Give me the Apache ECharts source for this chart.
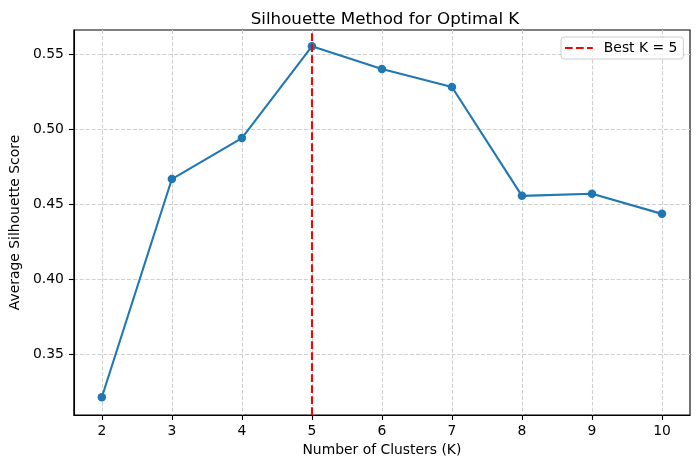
<!DOCTYPE html>
<html><head><meta charset="utf-8">
<script src="https://cdn.jsdelivr.net/npm/echarts@6/dist/echarts.min.js"></script>
<style>html,body{margin:0;padding:0;background:#fff}#c{width:700px;height:468px}</style>
</head><body><div id="c"></div>
<script>
const kValues = [2, 3, 4, 5, 6, 7, 8, 9, 10];
const scores = [0.3213, 0.4667, 0.494, 0.5551, 0.540, 0.528, 0.4555, 0.4569, 0.4435];
const bestK = 5;
const yTicks = [0.35, 0.40, 0.45, 0.50, 0.55];
const xTicks = [2, 3, 4, 5, 6, 7, 8, 9, 10];

const font = 'DejaVu Sans';
const chart = echarts.init(document.getElementById('c'), null, {renderer: 'canvas'});
const gridLine = {show: true, lineStyle: {color: '#d0d0d0', width: 1.1, type: [4.1, 1.8]}};
const redDash = [7.7, 3.3];
chart.setOption({
  animation: false,
  backgroundColor: '#fff',
  title: {
    text: 'Silhouette Method for Optimal K', left: 380, textAlign: 'center', top: 6,
    textStyle: {fontFamily: font, fontSize: 16.7, fontWeight: 'normal', color: '#000'}
  },
  legend: {
    data: [{name: 'Best K = ' + bestK,
      icon: 'path://M0,0H7.7V2.1H0Z M11,0H18.7V2.1H11Z M22,0H27.8V2.1H22Z'}],
    left: 561, top: 37,
    padding: [4, 6, 4, 4], itemWidth: 27.8, itemHeight: 2.1, itemGap: 0,
    itemStyle: {borderWidth: 0},
    borderColor: '#cccccc', borderWidth: 1, borderRadius: 3, backgroundColor: 'rgba(255,255,255,0.8)',
    textStyle: {fontFamily: font, fontSize: 13.9, color: '#000', padding: [0, 0, 0, 6]}
  },
  grid: {left: 70, right: 10, top: 30, bottom: 53, show: true, borderColor: '#000', borderWidth: 1.1, containLabel: false},
  xAxis: {
    type: 'value', min: 1.6, max: 10.4,
    name: 'Number of Clusters (K)', nameLocation: 'middle', nameGap: 28,
    nameTextStyle: {fontFamily: font, fontSize: 13.9, color: '#000'},
    axisLine: {show: true, lineStyle: {color: '#000', width: 1.1}},
    axisTick: {show: true, customValues: xTicks, length: 4.9, lineStyle: {color: '#000', width: 1.1}},
    axisLabel: {customValues: xTicks, margin: 9, fontFamily: font, fontSize: 13.9, color: '#000'},
    splitLine: gridLine
  },
  yAxis: {
    type: 'value', min: 0.3095, max: 0.566,
    name: 'Average Silhouette Score', nameLocation: 'middle', nameGap: 42,
    nameTextStyle: {fontFamily: font, fontSize: 13.9, color: '#000'},
    axisLine: {show: true, lineStyle: {color: '#000', width: 1.1}},
    axisTick: {show: true, customValues: yTicks, length: 4.9, lineStyle: {color: '#000', width: 1.1}},
    axisLabel: {customValues: yTicks, margin: 10, fontFamily: font, fontSize: 13.9, color: '#000',
      formatter: v => v.toFixed(2)},
    splitLine: gridLine
  },
  series: [
    {
      name: 'scores', type: 'line', data: kValues.map((k, i) => [k, scores[i]]),
      symbol: 'circle', symbolSize: 8.5, showSymbol: true,
      itemStyle: {color: '#1f77b4', borderWidth: 0}, lineStyle: {color: '#1f77b4', width: 2.1}, z: 3
    },
    {
      name: 'Best K = ' + bestK, type: 'line', data: [], symbol: 'none',
      itemStyle: {color: '#ff0000'},
      lineStyle: {color: '#ff0000', width: 2.1, type: redDash},
      markLine: {
        symbol: 'none', silent: true, label: {show: false},
        lineStyle: {color: '#ff0000', width: 2.1, type: redDash},
        data: [{xAxis: bestK}]
      },
      z: 2
    }
  ]
});
</script></body></html>
